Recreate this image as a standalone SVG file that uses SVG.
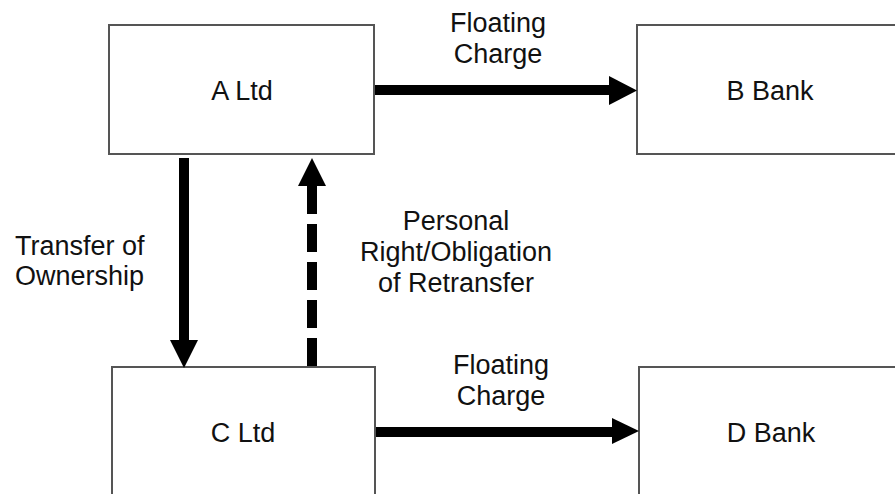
<svg xmlns="http://www.w3.org/2000/svg" width="895" height="494" viewBox="0 0 895 494">
<style>
.box{fill:#fff;stroke:#555;stroke-width:2}
.t{font-family:"Liberation Sans",Arial,sans-serif;font-size:27px;fill:#111;text-anchor:middle}
.tl{font-family:"Liberation Sans",Arial,sans-serif;font-size:27px;fill:#111}
.ln{stroke:#000;stroke-width:10;fill:none}
.hd{fill:#000}
</style>
<rect width="895" height="494" fill="#fff"/>
<g id="a-ltd"><rect class="box" x="109" y="25" width="265" height="129"/><text class="t" x="242" y="100">A Ltd</text></g>
<g id="b-bank"><rect class="box" x="637" y="25" width="268" height="129"/><text class="t" x="770" y="100">B Bank</text></g>
<g id="c-ltd"><rect class="box" x="112" y="367" width="263" height="140"/><text class="t" x="243" y="442">C Ltd</text></g>
<g id="d-bank"><rect class="box" x="639" y="367" width="268" height="140"/><text class="t" x="771" y="442">D Bank</text></g>
<g id="connectors">
<line class="ln" x1="375" y1="90" x2="610" y2="90"/>
<polygon class="hd" points="609,76 637,90.5 609,105"/>
<line class="ln" x1="376" y1="432" x2="613" y2="432"/>
<polygon class="hd" points="612,418 639,431 612,444"/>
<line class="ln" x1="184" y1="158" x2="184" y2="341"/>
<polygon class="hd" points="170,340 198,340 184,368"/>
<line class="ln" x1="312" y1="366" x2="312" y2="185" stroke-dasharray="28,10"/>
<polygon class="hd" points="298,186 326,186 312,158"/>
</g>
<g id="labels">
<text class="t" x="498" y="32">Floating</text>
<text class="t" x="498" y="63">Charge</text>
<text class="tl" x="15" y="255">Transfer of</text>
<text class="tl" x="15" y="285">Ownership</text>
<text class="t" x="456" y="230">Personal</text>
<text class="t" x="456" y="261">Right/Obligation</text>
<text class="t" x="456" y="292">of Retransfer</text>
<text class="t" x="501" y="374">Floating</text>
<text class="t" x="501" y="405">Charge</text>
</g>
</svg>
